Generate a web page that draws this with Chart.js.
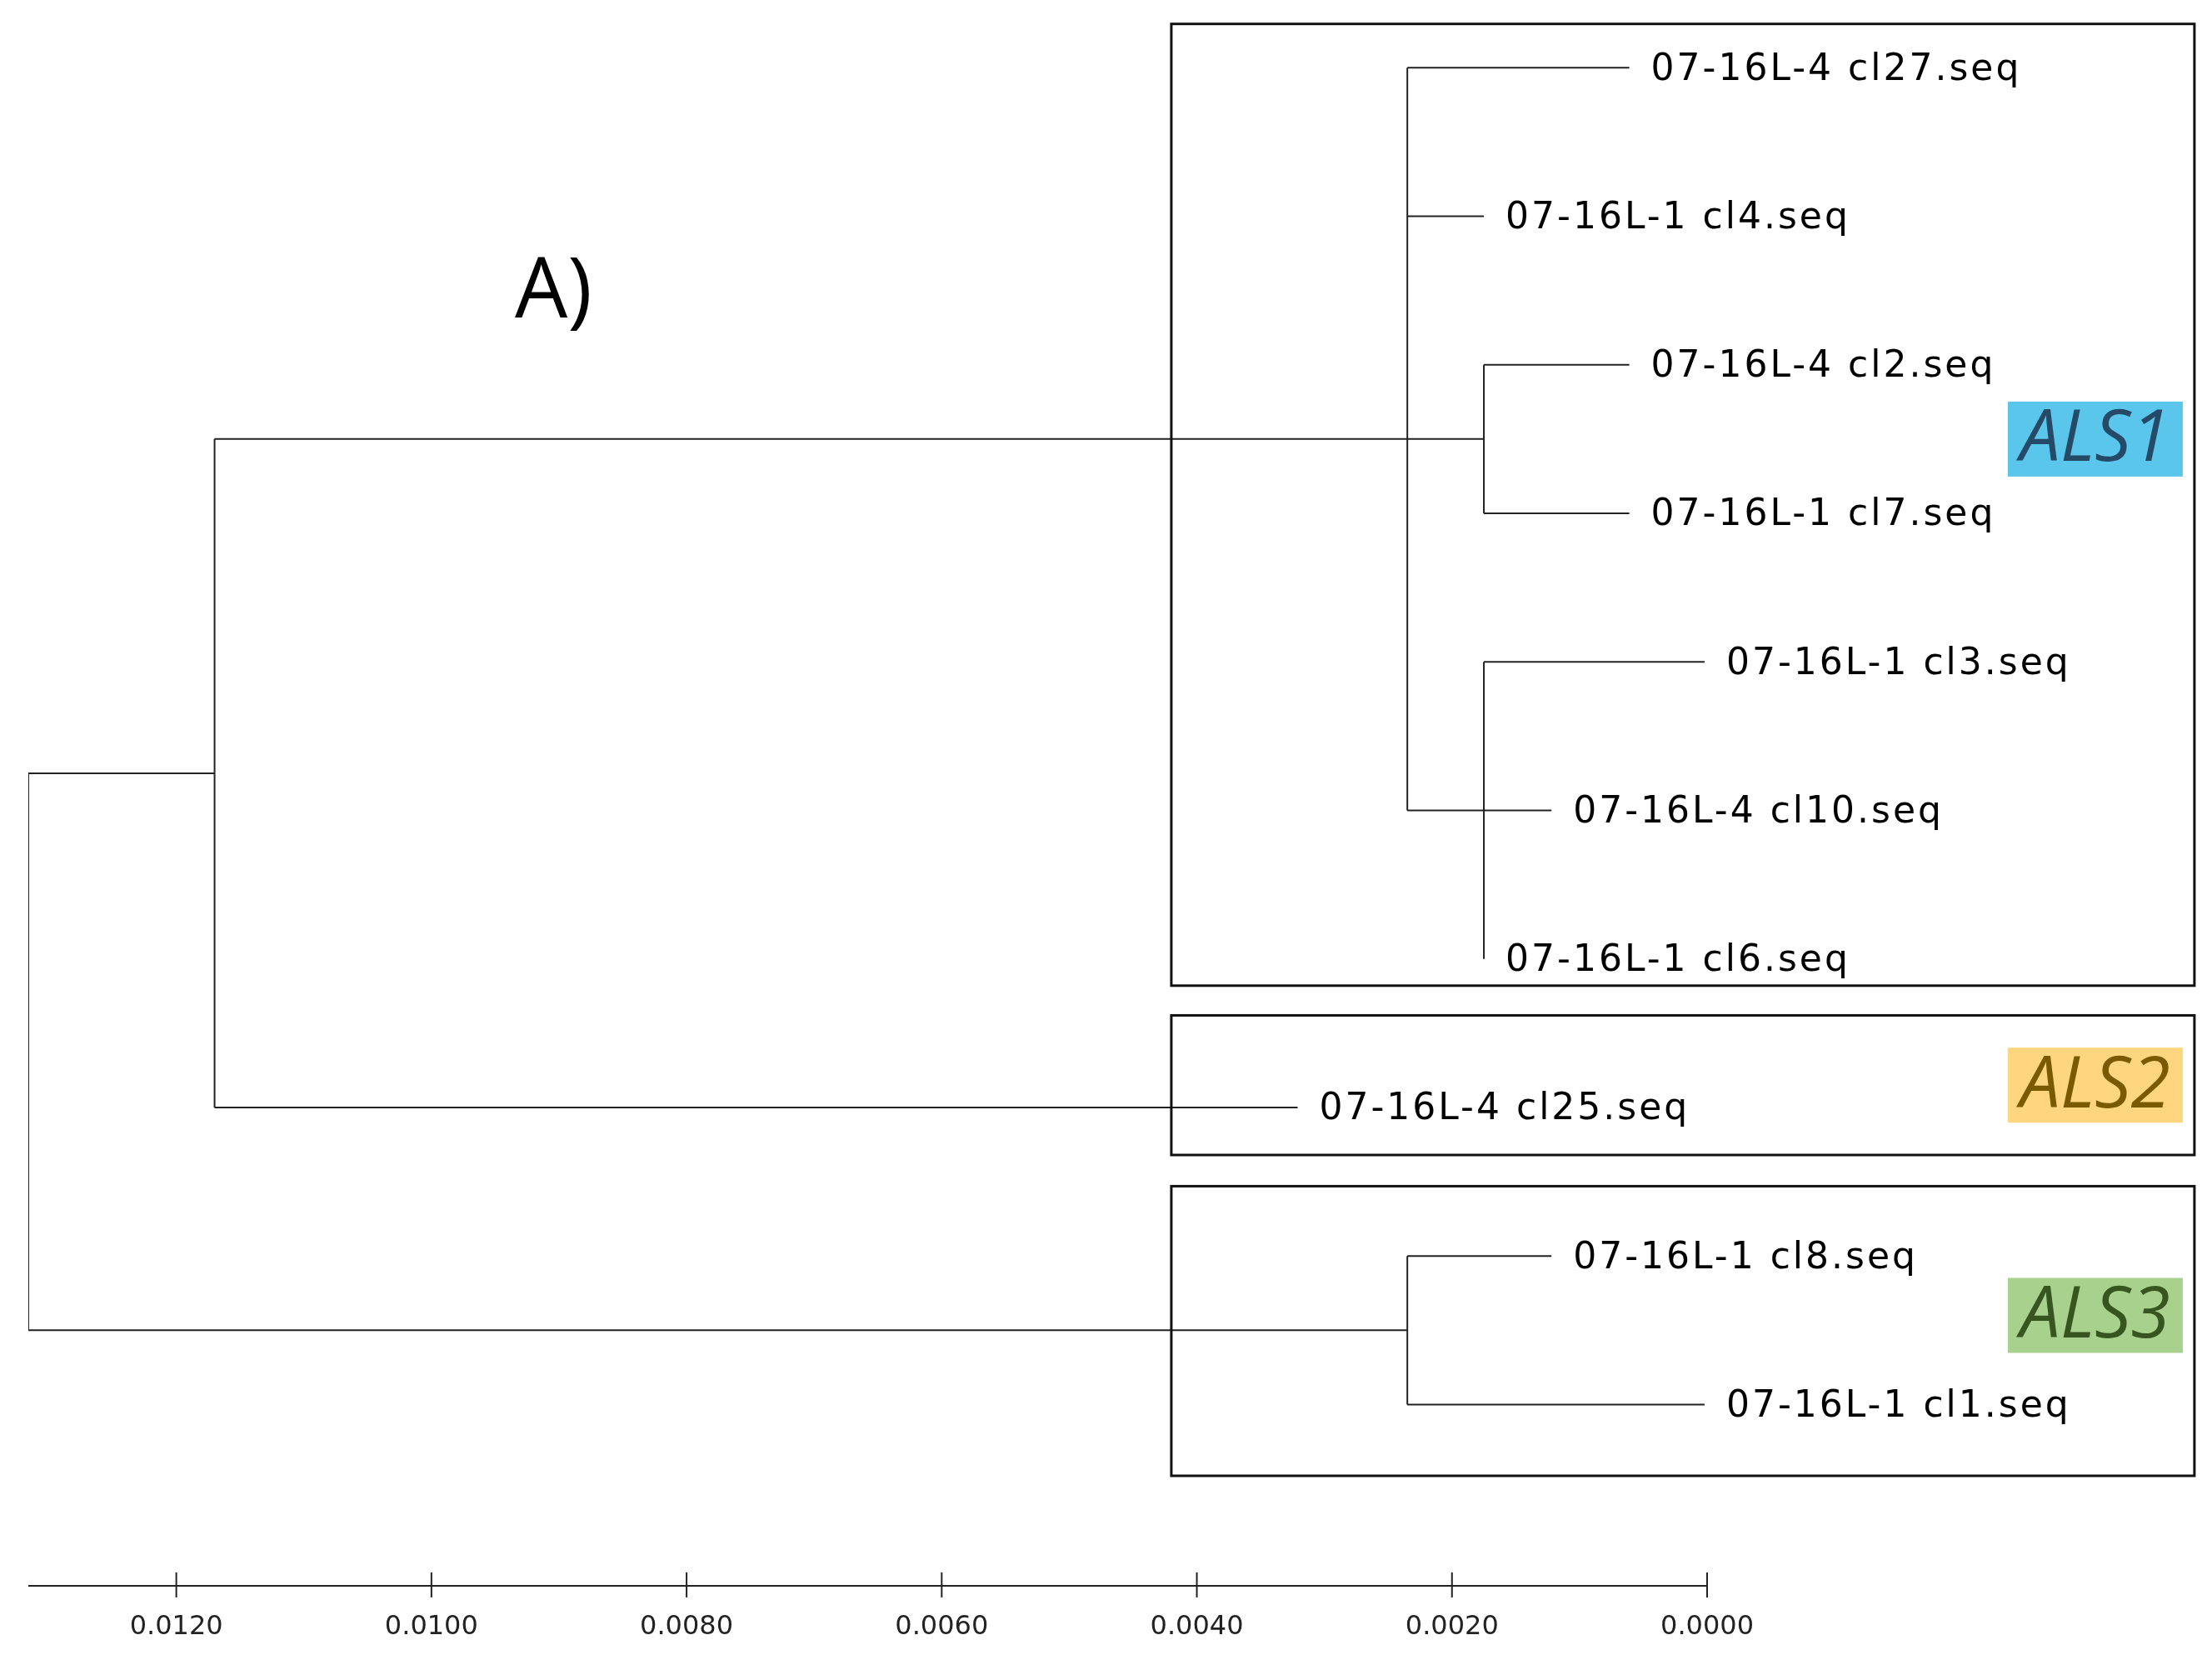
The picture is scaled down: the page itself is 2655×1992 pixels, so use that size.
<!DOCTYPE html>
<html><head><meta charset="utf-8">
<script src="https://cdn.jsdelivr.net/npm/chart.js@4"></script>
<style>html,body{margin:0;padding:0;background:#fff}#wrap{width:2655px;height:1992px}</style>
</head><body><div id="wrap"><canvas id="c"></canvas></div>
<script>
// Leaves (row index = order), tip distance
const leafNames = ["07-16L-4 cl27.seq","07-16L-1 cl4.seq","07-16L-4 cl2.seq","07-16L-1 cl7.seq","07-16L-1 cl3.seq","07-16L-4 cl10.seq","07-16L-1 cl6.seq","07-16L-4 cl25.seq","07-16L-1 cl8.seq","07-16L-1 cl1.seq"];
const leafTip = [0.00061,0.00175,0.00061,0.00061,0.00002,0.00122,0.00175,0.00321,0.00122,0.00002];
// Tree segments: [x1, y1, x2, y2] in distance / row units
const branches = [
  [0.01316,4.75,0.01316,8.5],[0.01316,4.75,0.0117,4.75],[0.01316,8.5,0.00235,8.5],
  [0.0117,2.5,0.0117,7],[0.0117,2.5,0.00175,2.5],[0.0117,7,0.00321,7],
  [0.00235,0,0.00235,5],[0.00235,0,0.00061,0],[0.00235,1,0.00175,1],[0.00235,5,0.00122,5],
  [0.00175,2,0.00175,3],[0.00175,2,0.00061,2],[0.00175,3,0.00061,3],
  [0.00175,4,0.00175,6],[0.00175,4,0.00002,4],
  [0.00235,8,0.00235,9],[0.00235,8,0.00122,8],[0.00235,9,0.00002,9]
];
const tickValues = [0.012,0.010,0.008,0.006,0.004,0.002,0.000];
const tickLabels = ["0.0120","0.0100","0.0080","0.0060","0.0040","0.0020","0.0000"];
// Clade boxes: [xLeft, xRight, yTop, yBottom, label, labelRow]
const clades = [
  [0.0042,-0.00382,-0.295,6.18,"ALS1",2.5],
  [0.0042,-0.00382,6.38,7.32,"ALS2",6.85],
  [0.0042,-0.00382,7.53,9.48,"ALS3",8.4]
];
const cladeBg = ["#5bc6ec","#fed67f","#a9d18e"];
const cladeFg = ["#244a68","#7a5a00","#36551f"];

const datasets = branches.map(b=>({data:[{x:b[0],y:b[1]},{x:b[2],y:b[3]}],showLine:true,borderColor:"#222",borderWidth:2,pointRadius:0,fill:false}));

const deco = {
  id:"deco",
  afterDatasetsDraw(chart){
    const ctx=chart.ctx, xs=chart.scales.x, ys=chart.scales.y;
    ctx.save();
    ctx.strokeStyle="#111";ctx.lineWidth=3;
    clades.forEach((c,i)=>{
      const x1=xs.getPixelForValue(c[0]),x2=xs.getPixelForValue(c[1]);
      const y1=ys.getPixelForValue(c[2]),y2=ys.getPixelForValue(c[3]);
      ctx.strokeRect(x1,y1,x2-x1,y2-y1);
      const yc=ys.getPixelForValue(c[5]);
      ctx.font="italic 86px 'Open Sans', 'DejaVu Sans', sans-serif";
      const w=210,h=90;
      const bx=x2-14-w;
      ctx.fillStyle=cladeBg[i];ctx.fillRect(bx,yc-h/2,w,h);
      ctx.fillStyle=cladeFg[i];ctx.textAlign="center";ctx.textBaseline="middle";
      ctx.fillText(c[4],bx+w/2,yc+2);
    });
    ctx.fillStyle="#000";ctx.textAlign="left";ctx.textBaseline="middle";
    ctx.font="44px 'DejaVu Sans', sans-serif";
    ctx.letterSpacing="3px";
    leafNames.forEach((n,i)=>{
      ctx.fillText(n,xs.getPixelForValue(leafTip[i])+26,ys.getPixelForValue(i)+3);
    });
    ctx.letterSpacing="0px";
    const ay=ys.getPixelForValue(10.22);
    ctx.strokeStyle="#222";ctx.lineWidth=2;
    ctx.beginPath();ctx.moveTo(xs.getPixelForValue(0.01316),ay);ctx.lineTo(xs.getPixelForValue(0),ay);ctx.stroke();
    ctx.font="32px 'DejaVu Sans', sans-serif";ctx.textAlign="center";ctx.fillStyle="#222";
    tickValues.forEach((v,i)=>{
      const px=xs.getPixelForValue(v);
      ctx.beginPath();ctx.moveTo(px,ay-16);ctx.lineTo(px,ay+14);ctx.stroke();
      ctx.fillText(tickLabels[i],px,ay+50);
    });
    ctx.fillStyle="#000";ctx.font="100px 'Open Sans', sans-serif";ctx.textAlign="left";
    ctx.fillText("A)",618,ys.getPixelForValue(1.52));
    ctx.restore();
  }
};

new Chart(document.getElementById("c"),{
  type:"scatter",
  data:{datasets},
  options:{
    responsive:true,maintainAspectRatio:false,animation:false,
    layout:{padding:{left:34,right:606,top:0,bottom:0}},
    plugins:{legend:{display:false},tooltip:{enabled:false}},
    scales:{
      x:{type:"linear",min:0,max:0.01316,reverse:true,display:false},
      y:{type:"linear",min:-0.456,max:10.72,reverse:true,display:false}
    }
  },
  plugins:[deco]
});
</script></body></html>
